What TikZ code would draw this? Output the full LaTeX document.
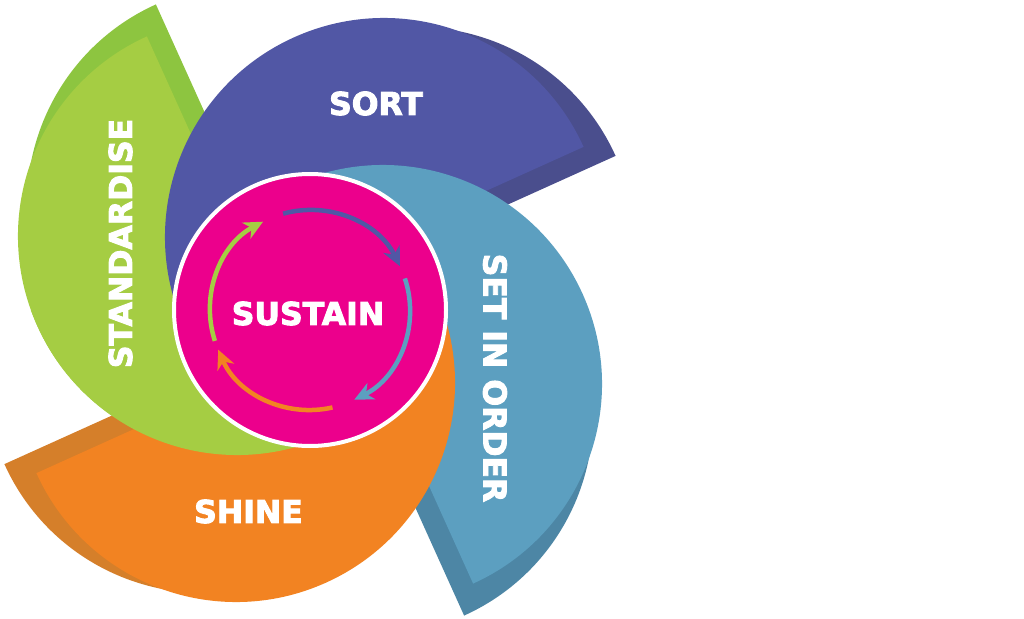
\documentclass[tikz,border=0pt]{standalone}
\usepackage{fontspec}
\newfontfamily\heavyfont{DejaVu Sans Bold}[FakeBold=3]
\usepackage{xcolor}
\usetikzlibrary{arrows.meta}

\definecolor{sortlight}{HTML}{5157A5}
\definecolor{sortdark}{HTML}{4A4E8D}
\definecolor{setlight}{HTML}{5C9FC0}
\definecolor{setdark}{HTML}{4D86A5}
\definecolor{shinelight}{HTML}{F28322}
\definecolor{shinedark}{HTML}{D57F2A}
\definecolor{stdlight}{HTML}{A5CD43}
\definecolor{stddark}{HTML}{8DC540}
\definecolor{sustainpink}{HTML}{EC008C}

% one petal: rotation, back colour, face colour
\newcommand{\petal}[3]{%
  \begin{scope}[rotate=#1]
    \fill[#2, shift={(106,64)}] (24.3:219) arc[start angle=24.3, end angle=204.3, radius=219] -- cycle;
    \fill[#3, shift={(74,73)}] (24.3:219) arc[start angle=24.3, end angle=204.3, radius=219] -- cycle;
  \end{scope}}

\begin{document}
\begin{tikzpicture}[
    x=1pt, y=1pt,
    word/.style={text=white, inner sep=0pt, font=\heavyfont\fontsize{31.5}{38}\selectfont},
    turn/.style={line width=4.5pt, -{Stealth[length=19pt, width=18pt, inset=6pt]}}
]
\path[use as bounding box, fill=white] (-310,-308) rectangle (714,310);

% petals, green first and once more over orange
\petal{-270}{stddark}{stdlight}
\petal{0}{sortdark}{sortlight}
\petal{-90}{setdark}{setlight}
\petal{-180}{shinedark}{shinelight}
\begin{scope}
  \clip (-310,-308) rectangle (150,0);
  \petal{-270}{stddark}{stdlight}
\end{scope}

\node[circle, fill=sustainpink, draw=white, line width=4pt, minimum size=272pt, inner sep=0pt] (hub) at (0,0) {};
\node[word] (sustain) at (-2,-3.5) {SUSTAIN};

\draw[turn, sortlight] (105.6:100) arc[start angle=105.6, end angle=26, radius=100];
\draw[turn, setlight] (18.4:100) arc[start angle=18.4, end angle=-63.7, radius=100];
\draw[turn, shinelight] (-77:100) arc[start angle=-77, end angle=-156.6, radius=100];
\draw[turn, stdlight] (198:100) arc[start angle=198, end angle=118, radius=100];

\node[word] (sort) at (66,206.5) {SORT};
\node[word, rotate=-90] (order) at (185,-68) {SET IN ORDER};
\node[word] (shine) at (-61.5,-201.5) {SHINE};
\node[word, rotate=90] (standard) at (-189.5,66.5) {STANDARDISE};

\end{tikzpicture}
\end{document}
